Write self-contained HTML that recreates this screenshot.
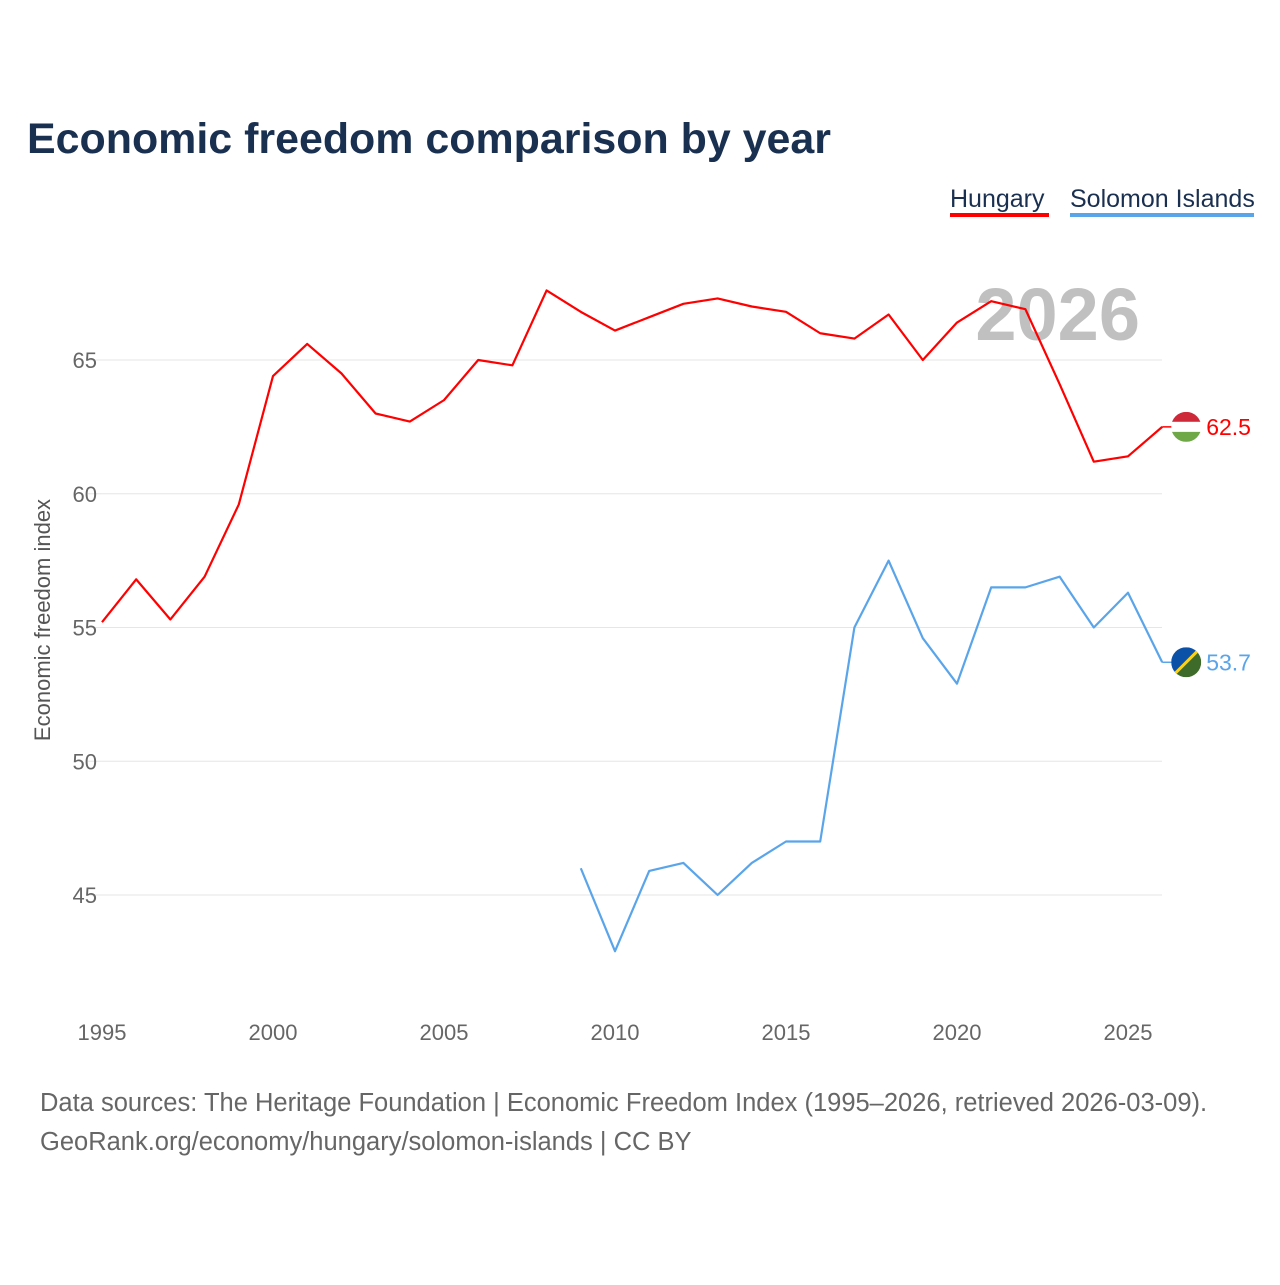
<!DOCTYPE html>
<html><head><meta charset="utf-8"><style>
body{margin:0;background:#fff;font-family:"Liberation Sans",sans-serif;}
svg text{font-family:"Liberation Sans",sans-serif;}
</style></head><body>
<svg width="1280" height="1280" viewBox="0 0 1280 1280">
<text x="27" y="153" font-size="43" font-weight="bold" fill="#1a3050" textLength="804" lengthAdjust="spacingAndGlyphs">Economic freedom comparison by year</text>
<g><text x="950" y="207" font-size="25" fill="#1a3050">Hungary</text><rect x="950" y="213" width="99" height="4" fill="#ff0000"/></g>
<g><text x="1070" y="207" font-size="25" fill="#1a3050">Solomon Islands</text><rect x="1070" y="213" width="184" height="4" fill="#5aa5ea"/></g>
<text x="1140" y="340" font-size="74" font-weight="bold" fill="#c0c0c0" text-anchor="end">2026</text>
<g id="grid"></g>
<g id="yt"></g>
<g id="xt"></g>
<text transform="translate(50,620) rotate(-90)" font-size="22" fill="#555" text-anchor="middle">Economic freedom index</text>
<g id="lines"></g>
<text x="40" y="1111" font-size="25.5" fill="#666">Data sources: The Heritage Foundation | Economic Freedom Index (1995–2026, retrieved 2026-03-09).</text>
<text x="40" y="1150" font-size="25.5" fill="#666">GeoRank.org/economy/hungary/solomon-islands | CC BY</text>
</svg>
<script>
const years=[1995,1996,1997,1998,1999,2000,2001,2002,2003,2004,2005,2006,2007,2008,2009,2010,2011,2012,2013,2014,2015,2016,2017,2018,2019,2020,2021,2022,2023,2024,2025,2026];
const hungary=[55.2,56.8,55.3,56.9,59.6,64.4,65.6,64.5,63.0,62.7,63.5,65.0,64.8,67.6,66.8,66.1,66.6,67.1,67.3,67.0,66.8,66.0,65.8,66.7,65.0,66.4,67.2,66.9,64.1,61.2,61.4,62.5];
const solomonYears=[2009,2010,2011,2012,2013,2014,2015,2016,2017,2018,2019,2020,2021,2022,2023,2024,2025,2026];
const solomon=[46.0,42.9,45.9,46.2,45.0,46.2,47.0,47.0,55.0,57.5,54.6,52.9,56.5,56.5,56.9,55.0,56.3,53.7];
const yTicks=[45,50,55,60,65];
const xTicks=[1995,2000,2005,2010,2015,2020,2025];
const NS='http://www.w3.org/2000/svg';
const X=yr=>102+(yr-1995)*34.2;
const Y=v=>360+(65-v)*26.75;
function mk(t,a,p){const e=document.createElementNS(NS,t);for(const k in a)e.setAttribute(k,a[k]);p.appendChild(e);return e;}
const grid=document.getElementById('grid'),yt=document.getElementById('yt'),xt=document.getElementById('xt'),lines=document.getElementById('lines');
yTicks.forEach(v=>{
 const l=mk('line',{x1:88,x2:1162,y1:Y(v),y2:Y(v),stroke:'#e6e6e6','stroke-width':1},grid);
 
 
 const t=mk('text',{x:97,y:Y(v)+8,'font-size':22,fill:'#666','text-anchor':'end'},yt);t.textContent=v;
 
 
});
xTicks.forEach(v=>{
 const t=mk('text',{x:X(v),y:1040,'font-size':22,fill:'#666','text-anchor':'middle'},xt);t.textContent=v;
 
 
});
function series(xs,vals,color,name){
 const pts=xs.map((yr,i)=>X(yr)+','+Y(vals[i])).join(' ');
 const p=mk('polyline',{points:pts,fill:'none',stroke:color,'stroke-width':2.2,'stroke-linejoin':'round'},lines);
 
 
 const last=vals[vals.length-1],lx=X(xs[xs.length-1]),ly=Y(last);
 mk('line',{x1:lx,x2:lx+12,y1:ly,y2:ly,stroke:color,'stroke-width':1.5},lines);
 const g=mk('g',{},lines);
 
 
 if(name==='hungary'){
  mk('clipPath',{id:'ch'},g);const c=document.getElementById('ch');mk('circle',{cx:lx+24,cy:ly,r:15},c);
  mk('rect',{x:lx+9,y:ly-15,width:30,height:10,fill:'#ce2939','clip-path':'url(#ch)'},g);
  mk('rect',{x:lx+9,y:ly-5,width:30,height:10,fill:'#fff','clip-path':'url(#ch)'},g);
  mk('rect',{x:lx+9,y:ly+5,width:30,height:10,fill:'#6fa846','clip-path':'url(#ch)'},g);
 }else{
  mk('clipPath',{id:'cs'},g);const c=document.getElementById('cs');mk('circle',{cx:lx+24,cy:ly,r:15},c);
  mk('polygon',{points:`${lx+9},${ly-15} ${lx+39},${ly-15} ${lx+9},${ly+15}`,fill:'#0b51a8','clip-path':'url(#cs)'},g);
  mk('polygon',{points:`${lx+39},${ly-15} ${lx+39},${ly+15} ${lx+9},${ly+15}`,fill:'#3f6b2a','clip-path':'url(#cs)'},g);
  mk('line',{x1:lx+9,y1:ly+15,x2:lx+39,y2:ly-15,stroke:'#fcd116','stroke-width':3,'clip-path':'url(#cs)'},g);
 }
 const t=mk('text',{x:lx+44,y:ly+8,'font-size':23,fill:color},lines);t.textContent=last.toFixed(1);
 
 
}
series(years,hungary,'#ff0000','hungary');
series(solomonYears,solomon,'#5aa5ea','solomon-islands');
</script>
</body></html>
